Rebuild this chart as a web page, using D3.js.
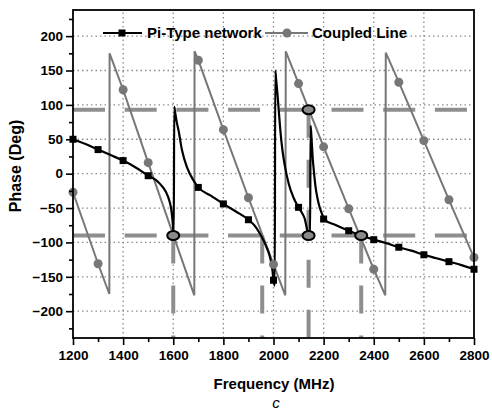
<!DOCTYPE html>
<html lang="en">
<head>
<meta charset="utf-8">
<title>Phase vs Frequency</title>
<script src="https://cdnjs.cloudflare.com/ajax/libs/d3/7.8.5/d3.min.js"></script>
<style>
body { margin: 0; background: #fff; }
svg text { font-family: "Liberation Sans", Arial, sans-serif; font-weight: bold; fill: #000; }
</style>
</head>
<body>
<script>

var w = 492, h = 413;

// Pi-Type network phase (MHz / deg)
var piFreq = [1200,1250,1300,1350,1400,1450,1500,1530,1550,1570,1585,1592,1598,1602,
              1604,1608,1614,1621,1635,1655,1681,1700,1750,1800,1850,1900,1930,1950,
              1970,1985,1995,2000,2005,2007,2011,2016,2021,2028,2035,2045,2061,2080,
              2100,2115,2125,2132,2138,2146,2148,2152,2156,2161,2168,2175,2185,2195,
              2200,2250,2300,2350,2400,2450,2500,2550,2600,2650,2700,2750,2800];
var piPhase = [50,43,35,27,19,9,-3,-9,-16,-26,-40,-52,-72,-90,
               97,88,75,63,34,9,-10,-20,-32,-44,-55,-67,-78,-90,
               -105,-120,-138,-155,-163,150,135,115,92,60,36,12,-15,-35,
               -49,-58,-66,-78,-88,-92,70,50,25,4,-20,-35,-50,-60,
               -66,-75,-83,-90,-96,-101,-107,-112,-118,-123,-128,-133,-139];

// Coupled line phase (sawtooth, wraps at +-180)
var clFreq = [1200,1300,1345,1346,1400,1500,1600,1684,1685,1700,1800,1900,2000,2047,2049,
              2100,2200,2300,2400,2446,2448,2500,2600,2700,2800];
var clPhase = [-27,-131,-175,175,122,16,-89,-177,178,165,64,-35,-132,-177,178,
               131,39,-51,-139,-177,176,133,48,-38,-122];

// +-90 deg guides and the crossings marked on them
var guidePhase = [93, -90];
var dropFreq = [1600, 1955, 2140, 2350];
var dropFrom = [-90, -90, 93, -90];
var crossFreq = [1600, 2140, 2140, 2350];
var crossPhase = [-90, 93, -90, -90];

var xTicks = [1200,1400,1600,1800,2000,2200,2400,2600,2800];
var yTicks = [-200,-150,-100,-50,0,50,100,150,200];
var seriesNames = ["Pi-Type network", "Coupled Line"];

var gray = "#777", guideGray = "#8e8e8e";

var x = d3.scaleLinear().domain([1200, 2800]).range([73, 474]);
var y = d3.scaleLinear().domain([-239, 238]).range([338, 10]);

var svg = d3.select("body").append("svg")
	.attr("width", w)
	.attr("height", h);

//grid
var grid = svg.append("g")
	.attr("stroke", "#8a8a8a")
	.attr("stroke-width", 1.3)
	.attr("stroke-dasharray", "1.5,3");
grid.selectAll(".gx")
	.data(xTicks.slice(1, -1))
	.enter().append("line")
	.attr("x1", function(d) { return x(d); })
	.attr("x2", function(d) { return x(d); })
	.attr("y1", y.range()[0])
	.attr("y2", y.range()[1]);
grid.selectAll(".gy")
	.data(yTicks)
	.enter().append("line")
	.attr("x1", x.range()[0])
	.attr("x2", x.range()[1])
	.attr("y1", function(d) { return y(d); })
	.attr("y2", function(d) { return y(d); });

//dashed guides
svg.selectAll(".hguide")
	.data(guidePhase)
	.enter().append("line")
	.attr("x1", x.range()[0])
	.attr("x2", x.range()[1])
	.attr("y1", function(d) { return y(d); })
	.attr("y2", function(d) { return y(d); })
	.attr("stroke", guideGray)
	.attr("stroke-width", 4)
	.attr("stroke-dasharray", "32,19.7");

svg.selectAll(".vguide")
	.data(dropFreq)
	.enter().append("line")
	.attr("x1", function(d) { return x(d); })
	.attr("x2", function(d) { return x(d); })
	.attr("y1", function(d, i) { return y(dropFrom[i]); })
	.attr("y2", y.range()[0])
	.attr("stroke", guideGray)
	.attr("stroke-width", 4)
	.attr("stroke-dasharray", "28,22");

//series lines
var clData = clFreq.map(function(f, i) { return [f, clPhase[i]]; });
var piData = piFreq.map(function(f, i) { return [f, piPhase[i]]; });

svg.append("path")
	.datum(clData)
	.attr("fill", "none")
	.attr("stroke", gray)
	.attr("stroke-width", 2)
	.attr("d", d3.line()
		.x(function(d) { return x(d[0]); })
		.y(function(d) { return y(d[1]); }));

svg.append("path")
	.datum(piData)
	.attr("fill", "none")
	.attr("stroke", "#000")
	.attr("stroke-width", 2.2)
	.attr("d", d3.line()
		.curve(d3.curveMonotoneX)
		.x(function(d) { return x(d[0]); })
		.y(function(d) { return y(d[1]); }));

//markers every 100 MHz
svg.selectAll(".clm")
	.data(clData.filter(function(d) { return d[0] % 100 === 0; }))
	.enter().append("circle")
	.attr("cx", function(d) { return x(d[0]); })
	.attr("cy", function(d) { return y(d[1]); })
	.attr("r", 4.5)
	.attr("fill", gray);

svg.selectAll(".pim")
	.data(piData.filter(function(d) { return d[0] % 100 === 0; }))
	.enter().append("rect")
	.attr("x", function(d) { return x(d[0]) - 3.5; })
	.attr("y", function(d) { return y(d[1]) - 3.5; })
	.attr("width", 7)
	.attr("height", 7)
	.attr("fill", "#000");

//crossing rings
svg.selectAll(".cross")
	.data(crossFreq)
	.enter().append("ellipse")
	.attr("cx", function(d) { return x(d); })
	.attr("cy", function(d, i) { return y(crossPhase[i]); })
	.attr("rx", 6)
	.attr("ry", 4.5)
	.attr("fill", "#8a8a8a")
	.attr("stroke", "#000")
	.attr("stroke-width", 2);

//axes
var xAxis = svg.append("g")
	.attr("transform", "translate(0," + y.range()[0] + ")")
	.call(d3.axisBottom(x).tickValues(xTicks).tickFormat(d3.format("d")).tickSize(7).tickPadding(5));
var xMinor = svg.append("g")
	.attr("transform", "translate(0," + y.range()[0] + ")")
	.call(d3.axisBottom(x).tickValues(d3.range(1300, 2800, 200)).tickFormat("").tickSize(4));

var yAxis = svg.append("g")
	.attr("transform", "translate(" + x.range()[0] + ",0)")
	.call(d3.axisLeft(y).tickValues(yTicks).tickSize(7).tickPadding(3));
var yMinor = svg.append("g")
	.attr("transform", "translate(" + x.range()[0] + ",0)")
	.call(d3.axisLeft(y).tickValues(d3.range(-225, 250, 50)).tickFormat("").tickSize(4));

[xAxis, xMinor, yAxis, yMinor].forEach(function(a) {
	a.select(".domain").remove();
	a.selectAll("line").attr("stroke", "#000").attr("stroke-width", 1.6);
	a.selectAll("text").style("font-size", "13.5px");
});

//frame
svg.append("rect")
	.attr("x", x.range()[0])
	.attr("y", y.range()[1])
	.attr("width", x.range()[1] - x.range()[0])
	.attr("height", y.range()[0] - y.range()[1])
	.attr("fill", "none")
	.attr("stroke", "#000")
	.attr("stroke-width", 1.8);

//titles
svg.append("text")
	.attr("x", 274)
	.attr("y", 389)
	.attr("text-anchor", "middle")
	.style("font-size", "15px")
	.text("Frequency (MHz)");

svg.append("text")
	.attr("x", 276)
	.attr("y", 408)
	.attr("text-anchor", "middle")
	.style("font-size", "15px")
	.style("font-style", "italic")
	.style("font-weight", "normal")
	.text("c");

svg.append("text")
	.attr("transform", "translate(21,166) rotate(-90)")
	.attr("text-anchor", "middle")
	.style("font-size", "16px")
	.text("Phase (Deg)");

//legend
var legend = svg.append("g");
legend.append("line")
	.attr("x1", 103).attr("x2", 142).attr("y1", 33).attr("y2", 33)
	.attr("stroke", "#000").attr("stroke-width", 2);
legend.append("rect")
	.attr("x", 118.5).attr("y", 29.5).attr("width", 7).attr("height", 7)
	.attr("fill", "#000");
legend.append("text")
	.attr("x", 147).attr("y", 38)
	.style("font-size", "15px")
	.text(seriesNames[0]);
legend.append("line")
	.attr("x1", 265).attr("x2", 308).attr("y1", 33).attr("y2", 33)
	.attr("stroke", gray).attr("stroke-width", 2);
legend.append("circle")
	.attr("cx", 287).attr("cy", 33).attr("r", 4.5)
	.attr("fill", gray);
legend.append("text")
	.attr("x", 312).attr("y", 38)
	.style("font-size", "15px")
	.text(seriesNames[1]);

</script>
</body>
</html>
